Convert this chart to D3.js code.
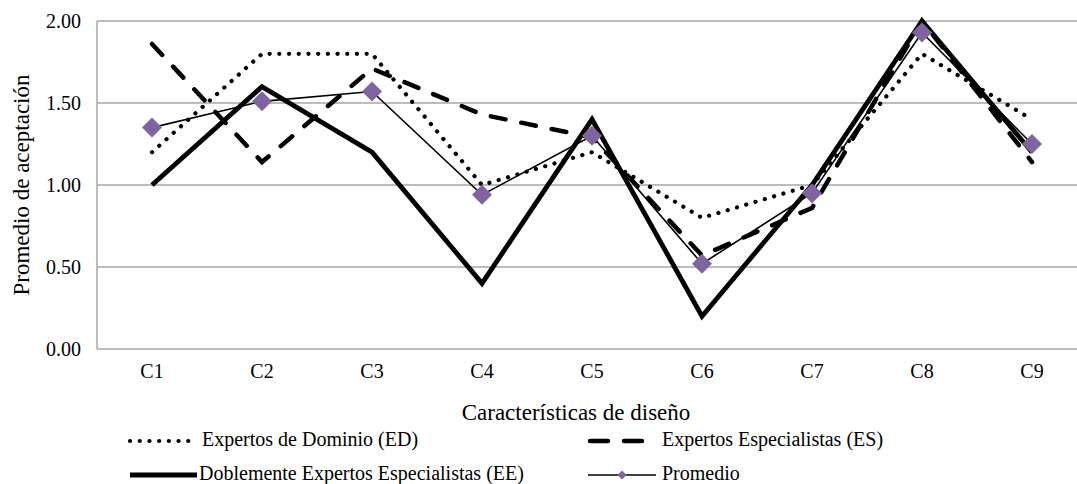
<!DOCTYPE html>
<html>
<head>
<meta charset="utf-8">
<script src="https://cdn.jsdelivr.net/npm/d3@7"></script>
<style>
  html, body { margin: 0; padding: 0; background: #fff; }
  svg { display: block; }
</style>
</head>
<body>
<svg id="chart" width="1077" height="484"></svg>
<script>
const categories = ["C1", "C2", "C3", "C4", "C5", "C6", "C7", "C8", "C9"];
const yTicks = [0, 0.5, 1.0, 1.5, 2.0];
const seriesED = [1.20, 1.80, 1.80, 1.00, 1.20, 0.80, 1.00, 1.80, 1.40];
const seriesES = [1.86, 1.14, 1.71, 1.43, 1.29, 0.57, 0.86, 2.00, 1.14];
const seriesEE = [1.00, 1.60, 1.20, 0.40, 1.40, 0.20, 1.00, 2.00, 1.20];
const seriesProm = [1.35, 1.51, 1.57, 0.94, 1.30, 0.52, 0.95, 1.93, 1.25];
const seriesNames = [
  "Expertos de Dominio (ED)",
  "Expertos Especialistas (ES)",
  "Doblemente Expertos Especialistas (EE)",
  "Promedio"
];
const xTitle = "Características de diseño";
const yTitle = "Promedio de aceptación";

const FONT = "'Liberation Serif', Tinos, 'Times New Roman', 'DejaVu Serif', serif";
const svg = d3.select("#chart").attr("font-family", FONT);
const plotLeft = 97, plotRight = 1087, plotTop = 21, plotBottom = 349;
const x = d3.scalePoint().domain(categories).range([plotLeft, plotRight]).padding(0.5);
const y = d3.scaleLinear().domain([0, 2]).range([plotBottom, plotTop]);
const gridColor = "#a6a6a6";
const purple = "#8064a2";

// gridlines
svg.append("g").selectAll("line").data(yTicks.filter(d => d > 0)).join("line")
  .attr("x1", plotLeft).attr("x2", plotRight)
  .attr("y1", d => y(d)).attr("y2", d => y(d))
  .attr("stroke", gridColor).attr("stroke-width", 1.5);

// axes lines
svg.append("line").attr("x1", plotLeft).attr("x2", plotLeft).attr("y1", y(2)).attr("y2", y(0))
  .attr("stroke", gridColor).attr("stroke-width", 1.5);
svg.append("line").attr("x1", plotLeft).attr("x2", plotRight).attr("y1", y(0)).attr("y2", y(0))
  .attr("stroke", gridColor).attr("stroke-width", 1.5);

// y tick labels
svg.append("g").selectAll("text").data(yTicks).join("text")
  .attr("font-family", FONT)
  .attr("x", 81).attr("y", d => y(d) + 7)
  .attr("text-anchor", "end").attr("font-size", 20)
  .text(d => d3.format(".2f")(d));

// x tick labels
svg.append("g").selectAll("text").data(categories).join("text")
  .attr("font-family", FONT)
  .attr("x", d => x(d)).attr("y", 378)
  .attr("text-anchor", "middle").attr("font-size", 20)
  .text(d => d);

// titles
svg.append("text").attr("font-family", FONT).attr("x", 576).attr("y", 420).attr("text-anchor", "middle")
  .attr("font-size", 23).text(xTitle);
svg.append("text").attr("font-family", FONT).attr("transform", "translate(29,185) rotate(-90)")
  .attr("text-anchor", "middle").attr("font-size", 23).text(yTitle);

const line = d3.line().x((d, i) => x(categories[i])).y(d => y(d));

const styles = [
  { data: seriesED, width: 4.2, dash: "0.1,9.6", cap: "round" },
  { data: seriesES, width: 4.5, dash: "15,16", cap: "round" },
  { data: seriesEE, width: 4.8, dash: null, cap: "butt" },
  { data: seriesProm, width: 1.6, dash: null, cap: "butt" }
];

styles.forEach(s => {
  svg.append("path").datum(s.data)
    .attr("d", line)
    .attr("fill", "none").attr("stroke", "#000")
    .attr("stroke-width", s.width)
    .attr("stroke-linecap", s.cap)
    .attr("stroke-linejoin", "miter")
    .attr("stroke-dasharray", s.dash);
});

// diamonds for Promedio
const diamond = d3.symbol().type(d3.symbolSquare).size(200);
svg.append("g").selectAll("path").data(seriesProm).join("path")
  .attr("d", diamond)
  .attr("transform", (d, i) => `translate(${x(categories[i])},${y(d)}) rotate(45)`)
  .attr("fill", purple);

// legend
const legendItems = [
  { name: seriesNames[0], x0: 130, x1: 194, y: 441, tx: 202, style: styles[0] },
  { name: seriesNames[1], x0: 590, x1: 642, y: 441, tx: 662, style: styles[1] },
  { name: seriesNames[2], x0: 130, x1: 197, y: 475, tx: 199, style: styles[2] },
  { name: seriesNames[3], x0: 588, x1: 656, y: 475, tx: 662, style: styles[3] }
];
const lg = svg.append("g");
legendItems.forEach((it, k) => {
  lg.append("line").attr("x1", it.x0).attr("x2", it.x1).attr("y1", it.y).attr("y2", it.y)
    .attr("stroke", "#000").attr("stroke-width", it.style.width)
    .attr("stroke-linecap", it.style.cap)
    .attr("stroke-dasharray", k === 1 ? "18,16" : it.style.dash);
  if (k === 3) {
    lg.append("path").attr("d", d3.symbol().type(d3.symbolSquare).size(40))
      .attr("transform", `translate(${(it.x0 + it.x1) / 2},${it.y}) rotate(45)`)
      .attr("fill", purple);
  }
  lg.append("text").attr("font-family", FONT).attr("x", it.tx).attr("y", it.y + 5)
    .attr("font-size", 20).text(it.name);
});
</script>
</body>
</html>
